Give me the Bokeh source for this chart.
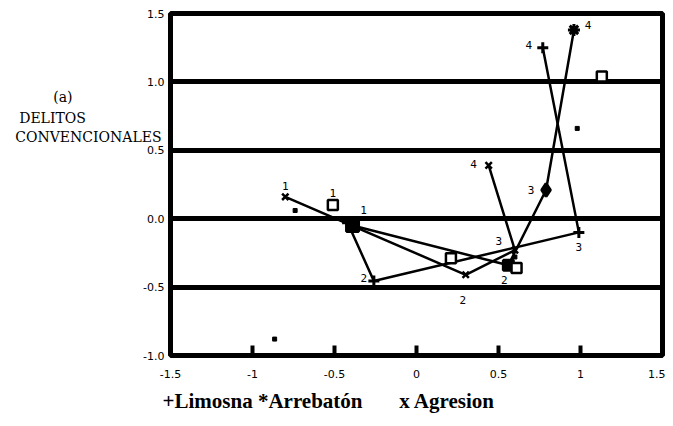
from bokeh.plotting import figure
from bokeh.models import ColumnDataSource, LinearAxis, FixedTicker, Title
from bokeh.core.properties import value
from bokeh.embed import file_html
from bokeh.resources import INLINE

# ---------------- data ----------------
point_labels = ["1", "2", "3", "4"]

limosna_x = [-0.42, -0.26, 0.99, 0.77]
limosna_y = [-0.03, -0.455, -0.10, 1.25]

arrebaton_x = [-0.39, 0.56, 0.79, 0.96]
arrebaton_y = [-0.05, -0.34, 0.21, 1.38]

agresion_x = [-0.80, 0.30, 0.60, 0.44]
agresion_y = [0.16, -0.41, -0.23, 0.39]

square_x = [-0.51, 0.21, 0.61, 1.13]
square_y = [0.10, -0.29, -0.36, 1.04]

dot_x = [-0.74, 0.60, 0.98, -0.865]
dot_y = [0.06, -0.28, 0.66, -0.88]

x_ticks = [-1.5, -1.0, -0.5, 0.0, 0.5, 1.0, 1.5]
x_tick_labels = ["-1.5", "-1", "-0.5", "0", "0.5", "1", "1.5"]
y_ticks = [-1.0, -0.5, 0.0, 0.5, 1.0, 1.5]
y_tick_labels = ["-1.0", "-0.5", "0.0", "0.5", "1.0", "1.5"]

legend_items = ["+Limosna", "*Arrebatón", "x Agresion"]
side_title = ["(a)", "DELITOS", "CONVENCIONALES"]

# ---------------- styles / layout ----------------
lim_show = [False, True, True, True]
arr_show = [True, True, True, True]
agr_show = [True, True, True, True]
sq_show = [True, False, False, False]

lim_off = [(0, 0), (-10, -3), (0, 15), (-14, -3)]
arr_off = [(11, -16), (-4, 15), (-15, 0), (14, -5)]
agr_off = [(0, -11), (-3, 25), (-16, -9), (-15, -1)]
sq_off = [(0, -12), (0, 0), (0, 0), (0, 0)]

arr_markers = ["square", "square", "diamond", "asterisk"]
arr_sizes = [12, 10, 13, 12]

FL, FT, FW, FH = 170, 13, 492, 344       # frame placement in pixels
W, H = 665, 418
X0, X1, Y0, Y1 = -1.5, 1.5, -1.0, 1.5

# side-title line placement: (vertical pixel of line centre, right-padding in nbsp)
side_rows = [97, 118, 137]
side_pad = [20, 17, 0]
legend_gaps = [1, 7]     # non-breaking spaces between legend items


def py_to_data(py):
    return Y1 - (py - FT) * (Y1 - Y0) / FH


p = figure(width=W, height=H, x_range=(X0, X1), y_range=(Y0, Y1),
           output_backend="svg", toolbar_location=None,
           min_border_left=FL, min_border_right=W - FL - FW, min_border_top=FT,
           min_border_bottom=H - FT - FH)
p.background_fill_color = "white"
p.border_fill_color = "white"
p.outline_line_color = "black"
p.outline_line_width = 5

xax = p.xaxis[0]
yax = p.yaxis[0]

p.xgrid.visible = False
p.ygrid.ticker = FixedTicker(ticks=y_ticks)
p.ygrid.grid_line_color = "black"
p.ygrid.grid_line_width = 5
p.ygrid.grid_line_alpha = 1.0

xax.ticker = FixedTicker(ticks=x_ticks)
xax.major_label_overrides = {t: l for t, l in zip(x_ticks, x_tick_labels)}
xax.axis_line_color = None
xax.major_tick_in = 10
xax.major_tick_out = 0
xax.major_tick_line_width = 4
xax.major_tick_line_color = "black"
xax.minor_tick_line_color = None
xax.major_label_standoff = 14
xax.major_label_text_font = "DejaVu Sans"
xax.major_label_text_font_size = "11px"
xax.major_label_text_color = "black"

yax.ticker = FixedTicker(ticks=y_ticks)
yax.major_label_overrides = {t: l for t, l in zip(y_ticks, y_tick_labels)}
yax.axis_line_color = None
yax.major_tick_in = 0
yax.major_tick_out = 0
yax.minor_tick_line_color = None
yax.major_label_standoff = 6
yax.major_label_text_font = "DejaVu Sans"
yax.major_label_text_font_size = "11px"
yax.major_label_text_color = "black"

# side title drawn as the tick labels of an extra, otherwise invisible, left axis
side_ticks = [py_to_data(r) for r in side_rows]
side_axis = LinearAxis(ticker=FixedTicker(ticks=side_ticks),
                       major_label_overrides={t: s + "\u00a0" * n for t, s, n in
                                              zip(side_ticks, side_title, side_pad)})
side_axis.axis_line_color = None
side_axis.major_tick_line_color = None
side_axis.minor_tick_line_color = None
side_axis.major_tick_in = 0
side_axis.major_tick_out = 0
side_axis.major_label_standoff = -21
side_axis.major_label_text_font = "DejaVu Serif"
side_axis.major_label_text_font_size = "14px"
side_axis.major_label_text_color = "black"
p.add_layout(side_axis, "left")

# bottom key as a title below the plot
legend_text = legend_items[0]
for gap, item in zip(legend_gaps, legend_items[1:]):
    legend_text += "\u00a0" * gap + item
key = Title(text=legend_text, align="left", offset=-8, standoff=12,
            text_font="Liberation Serif", text_font_size="21px",
            text_font_style="bold", text_color="black")
p.add_layout(key, "below")

LW = 2.5
# trajectories
p.line(limosna_x, limosna_y, line_color="black", line_width=LW)
p.line(arrebaton_x, arrebaton_y, line_color="black", line_width=LW)
p.line(agresion_x, agresion_y, line_color="black", line_width=LW)

# markers
p.scatter(limosna_x, limosna_y, marker="cross", size=11, line_width=3, color="black")
arr_src = ColumnDataSource(dict(x=arrebaton_x, y=arrebaton_y, m=arr_markers, s=arr_sizes))
p.scatter(x="x", y="y", marker="m", size="s", source=arr_src, line_width=3,
          line_color="black", fill_color="black")
p.scatter(agresion_x, agresion_y, marker="x", size=9, line_width=2.5, color="black")
p.scatter(square_x, square_y, marker="square", size=10, line_width=2.5,
          line_color="black", fill_color="white")
p.scatter(dot_x, dot_y, marker="square", size=4, line_color="black", fill_color="black")


# point labels
def add_labels(xs, ys, show, offs):
    d = dict(x=[], y=[], t=[], dx=[], dy=[])
    for x, y, lab, sh, (dx, dy) in zip(xs, ys, point_labels, show, offs):
        if sh:
            d["x"].append(x); d["y"].append(y); d["t"].append(lab)
            d["dx"].append(dx); d["dy"].append(dy)
    p.text(x="x", y="y", text="t", x_offset="dx", y_offset="dy",
           source=ColumnDataSource(d), text_align="center", text_baseline="middle",
           text_font=value("DejaVu Sans Mono"), text_font_size="11px",
           text_color="black")


add_labels(limosna_x, limosna_y, lim_show, lim_off)
add_labels(arrebaton_x, arrebaton_y, arr_show, arr_off)
add_labels(agresion_x, agresion_y, agr_show, agr_off)
add_labels(square_x, square_y, sq_show, sq_off)

open("out.html", "w").write(file_html(p, INLINE))
